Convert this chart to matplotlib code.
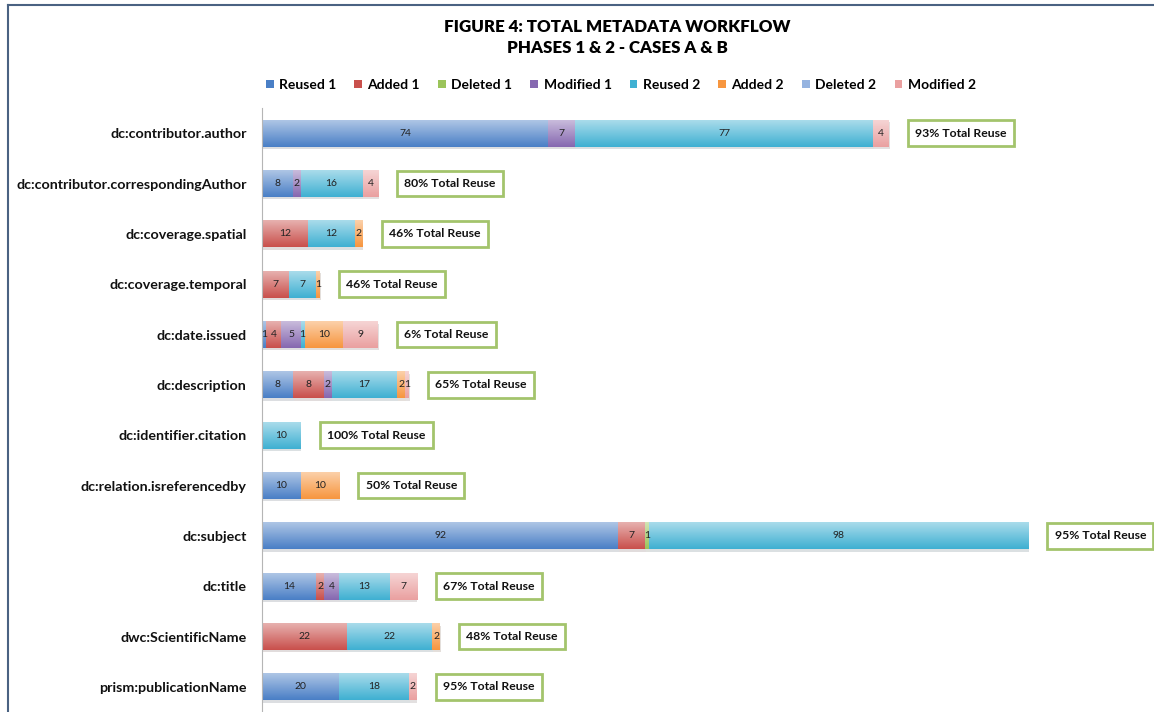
import matplotlib
matplotlib.use("Agg")
import matplotlib.pyplot as plt
import matplotlib.colors as mcolors
import matplotlib.patheffects as pe
from matplotlib.lines import Line2D
from matplotlib.patches import Patch
import numpy as np

plt.rcParams["font.family"] = ["Lato", "DejaVu Sans"]

# %%
# Metadata fields (top to bottom) and counts per workflow action.
fields = [
    "dc:contributor.author",
    "dc:contributor.correspondingAuthor",
    "dc:coverage.spatial",
    "dc:coverage.temporal",
    "dc:date.issued",
    "dc:description",
    "dc:identifier.citation",
    "dc:relation.isreferencedby",
    "dc:subject",
    "dc:title",
    "dwc:ScientificName",
    "prism:publicationName",
]
series = ["Reused 1", "Added 1", "Deleted 1", "Modified 1",
          "Reused 2", "Added 2", "Deleted 2", "Modified 2"]
reused1 = [74, 8, 0, 0, 1, 8, 0, 10, 92, 14, 0, 20]
added1 = [0, 0, 12, 7, 4, 8, 0, 0, 7, 2, 22, 0]
deleted1 = [0, 0, 0, 0, 0, 0, 0, 0, 1, 0, 0, 0]
modified1 = [7, 2, 0, 0, 5, 2, 0, 0, 0, 4, 0, 0]
reused2 = [77, 16, 12, 7, 1, 17, 10, 0, 98, 13, 22, 18]
added2 = [0, 0, 2, 1, 10, 2, 0, 10, 0, 0, 2, 0]
deleted2 = [0, 0, 0, 0, 0, 0, 0, 0, 0, 0, 0, 0]
modified2 = [4, 4, 0, 0, 9, 1, 0, 0, 0, 7, 0, 2]
total_reuse = [93, 80, 46, 46, 6, 65, 100, 50, 95, 67, 48, 95]

values = [reused1, added1, deleted1, modified1,
          reused2, added2, deleted2, modified2]
colors = ["#4a7fc6", "#c9504c", "#9bc45a", "#8668b0",
          "#3fb0d2", "#f7963f", "#95b3e0", "#eaa0a0"]


def gradient_bar(ax, rect, color):
    c = np.array(mcolors.to_rgb(color))
    top = c + (1 - c) * 0.55
    bottom = c
    t = np.linspace(0, 1, 32)[:, None]
    img = (top * (1 - t) + bottom * t).reshape(32, 1, 3)
    x0, y0 = rect.get_x(), rect.get_y()
    w, h = rect.get_width(), rect.get_height()
    ax.imshow(img, extent=(x0, x0 + w, y0 + h, y0), origin="upper",
              aspect="auto", zorder=2.5, interpolation="bilinear")


# %%
W, H = 1154, 712
fig = plt.figure(figsize=(W / 100, H / 100), dpi=100)
ax = fig.add_axes([262 / W, 0, 1 - 262 / W, 604 / H])

y = np.arange(len(fields))
left = np.zeros(len(fields))
for name, vals, col in zip(series, values, colors):
    vals = np.array(vals, dtype=float)
    bars = ax.barh(y, vals, left=left, height=0.53, color=col, zorder=2,
                   label=name)
    for rect, v, l, yi in zip(bars, vals, left, y):
        if v <= 0:
            continue
        rect.set_path_effects([pe.SimplePatchShadow(offset=(0.5, -1.8),
                                                    alpha=0.15), pe.Normal()])
        gradient_bar(ax, rect, col)
        ax.text(l + v / 2, yi, f"{int(v)}", ha="center", va="center",
                fontsize=7.5, color="#222222", zorder=5)
    left = left + vals

for yi, tot, pct in zip(y, left, total_reuse):
    ax.text(tot + 6.8, yi, f"{pct}% Total Reuse", ha="left", va="center",
            fontsize=8.8, fontweight="bold", color="#111111", zorder=6,
            clip_on=False,
            bbox=dict(boxstyle="square,pad=0.6", facecolor="white",
                      edgecolor="#a3c46c", linewidth=2))

ax.set_xlim(0, (W - 262) / 3.87)
ax.set_ylim(len(fields) - 0.5, -0.5)
ax.set_xticks([])
ax.set_yticks(y)
ax.set_yticklabels(fields, fontsize=10.3, fontweight="bold", color="#111111")
ax.tick_params(axis="y", length=0, pad=11)
for side in ["top", "right", "bottom"]:
    ax.spines[side].set_visible(False)
ax.spines["left"].set_color("#b5b5b5")

# %%
fig.text(0.535, 1 - 27 / H, "FIGURE 4: TOTAL METADATA WORKFLOW",
         ha="center", va="center", fontsize=12.2, fontweight="heavy")
fig.text(0.535, 1 - 48 / H, "PHASES 1 & 2 - CASES A & B",
         ha="center", va="center", fontsize=12.2, fontweight="heavy")

handles = [Patch(facecolor=c, edgecolor="none") for c in colors]
fig.legend(handles, series, loc="center", bbox_to_anchor=(0.538, 1 - 85 / H),
           ncol=8, frameon=False, handlelength=0.55, handleheight=0.55,
           handletextpad=0.4, columnspacing=1.3,
           prop=dict(weight="bold", size=10))

# frame of the original chart area
fig.add_artist(Line2D([8 / W, 8 / W], [0, 1 - 5 / H], color="#4a6282",
                      linewidth=1.5, transform=fig.transFigure))
fig.add_artist(Line2D([8 / W, 1], [1 - 5 / H, 1 - 5 / H], color="#4a6282",
                      linewidth=1.5, transform=fig.transFigure))

fig.savefig("out.png", dpi=100)
